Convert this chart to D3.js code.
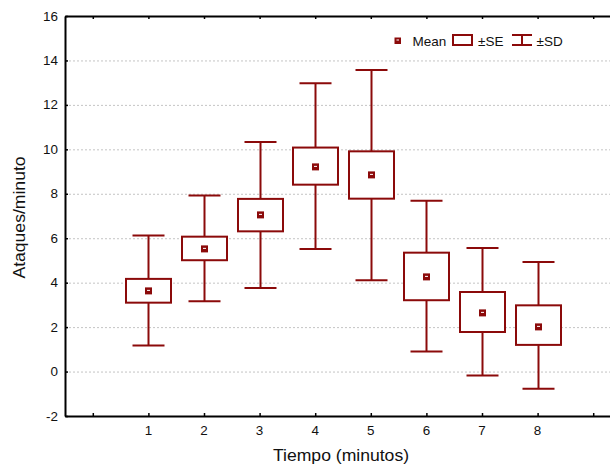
<!DOCTYPE html>
<html>
<head>
<meta charset="utf-8">
<script src="https://cdn.jsdelivr.net/npm/d3@7"></script>
<style>
  body { margin: 0; background: #fff; }
  svg { display: block; font-family: "Liberation Sans", Arial, sans-serif; }
</style>
</head>
<body>
<svg id="chart" width="610" height="465"></svg>
<script>
// Data
var minutes = [1, 2, 3, 4, 5, 6, 7, 8];
var means   = [3.63, 5.52, 7.05, 9.21, 8.85, 4.26, 2.64, 2.01];
var seLow   = [3.10, 5.01, 6.31, 8.41, 7.78, 3.21, 1.78, 1.20];
var seHigh  = [4.17, 6.07, 7.77, 10.08, 9.91, 5.35, 3.58, 2.98];
var sdLow   = [1.17, 3.16, 3.76, 5.52, 4.11, 0.90, -0.18, -0.77];
var sdHigh  = [6.12, 7.92, 10.33, 12.97, 13.57, 7.69, 5.56, 4.93];
var yTicks  = [-2, 0, 2, 4, 6, 8, 10, 12, 14, 16];
var xTicks  = [0, 1, 2, 3, 4, 5, 6, 7, 8, 9];

var red = '#8b0a0a';
var svg = d3.select('#chart');

var x = d3.scaleLinear().domain([-0.5, 9.5]).range([65, 621]);
var y = d3.scaleLinear().domain([-2, 16]).range([416, 16]);

// grid lines
svg.append('g')
    .selectAll('line')
    .data(yTicks.filter(function (d) { return d > -2 && d < 16; }))
    .join('line')
    .attr('x1', x(-0.5)).attr('x2', 610)
    .attr('y1', function (d) { return y(d) + 0.5; })
    .attr('y2', function (d) { return y(d) + 0.5; })
    .attr('stroke', '#c4c4c4')
    .attr('stroke-dasharray', '2,2');

// axes (ticks point inward)
var leftAxis = svg.append('g')
    .attr('transform', 'translate(' + x(-0.5) + ',0)')
    .call(d3.axisRight(y).tickValues(yTicks).tickSize(3).tickSizeOuter(0).tickFormat(''));
var bottomAxis = svg.append('g')
    .attr('transform', 'translate(0,' + y(-2) + ')')
    .call(d3.axisTop(x).tickValues(xTicks).tickSize(3).tickSizeOuter(0).tickFormat(''));
var topAxis = svg.append('g')
    .attr('transform', 'translate(0,' + y(16) + ')')
    .call(d3.axisBottom(x).tickValues(xTicks).tickSize(3).tickSizeOuter(0).tickFormat(''));
[leftAxis, bottomAxis, topAxis].forEach(function (g) {
  g.select('.domain').attr('stroke', '#000').attr('stroke-width', 2);
  g.selectAll('.tick line').attr('stroke', '#000').attr('stroke-width', 1.5);
});

// tick labels (slightly wide type, as in the original)
svg.append('g')
    .selectAll('text')
    .data(yTicks)
    .join('text')
    .attr('transform', function (d) { return 'translate(58,' + (y(d) + 4.5) + ') scale(1.12,1)'; })
    .attr('text-anchor', 'end')
    .attr('font-size', 12)
    .attr('fill', '#111')
    .text(function (d) { return d; });

svg.append('g')
    .selectAll('text')
    .data(minutes)
    .join('text')
    .attr('transform', function (d) { return 'translate(' + x(d) + ',435) scale(1.12,1)'; })
    .attr('text-anchor', 'middle')
    .attr('font-size', 12)
    .attr('fill', '#111')
    .text(function (d) { return d; });

// axis titles
svg.append('text')
    .attr('transform', 'translate(341,461) scale(1.1,1)')
    .attr('text-anchor', 'middle')
    .attr('font-size', 16)
    .attr('fill', '#111')
    .text('Tiempo (minutos)');

svg.append('text')
    .attr('transform', 'translate(24.5,217.5) rotate(-90) scale(1.1,1)')
    .attr('text-anchor', 'middle')
    .attr('font-size', 16)
    .attr('fill', '#111')
    .text('Ataques/minuto');

// boxes
var boxW = 45, capW = 32;
var groups = svg.append('g')
    .selectAll('g')
    .data(minutes)
    .join('g');

groups.each(function (d, i) {
  var g = d3.select(this);
  var cx = Math.round(x(d)) + 0.5;
  var ln = function (x1, x2, y1, y2) {
    g.append('line').attr('x1', x1).attr('x2', x2).attr('y1', y1).attr('y2', y2)
        .attr('stroke', red).attr('stroke-width', 2);
  };
  // whiskers
  ln(cx, cx, y(sdHigh[i]), y(seHigh[i]));
  ln(cx, cx, y(seLow[i]), y(sdLow[i]));
  ln(cx - capW / 2, cx + capW / 2, y(sdHigh[i]), y(sdHigh[i]));
  ln(cx - capW / 2, cx + capW / 2, y(sdLow[i]), y(sdLow[i]));
  // SE box
  g.append('rect')
      .attr('x', cx - boxW / 2).attr('width', boxW)
      .attr('y', y(seHigh[i])).attr('height', y(seLow[i]) - y(seHigh[i]))
      .attr('fill', '#fff').attr('stroke', red).attr('stroke-width', 2);
  // mean marker
  g.append('rect')
      .attr('x', cx - 3.5).attr('y', y(means[i]) - 3.5)
      .attr('width', 7).attr('height', 7)
      .attr('fill', red);
  g.append('line')
      .attr('x1', cx - 1.5).attr('x2', cx + 1.5)
      .attr('y1', y(means[i]) - 0.5).attr('y2', y(means[i]) - 0.5)
      .attr('stroke', '#fff').attr('stroke-width', 1);
});

// legend
var lg = svg.append('g');
lg.append('rect').attr('x', 394.5).attr('y', 37.5).attr('width', 6.5).attr('height', 6.5).attr('fill', red);
lg.append('line').attr('x1', 396.5).attr('x2', 399).attr('y1', 40).attr('y2', 40)
    .attr('stroke', '#fff').attr('stroke-width', 1);
lg.append('text').attr('x', 412.5).attr('y', 45.5).attr('font-size', 13.5).attr('fill', '#111').text('Mean');
lg.append('rect').attr('x', 453).attr('y', 35).attr('width', 19).attr('height', 10)
    .attr('fill', '#fff').attr('stroke', red).attr('stroke-width', 2);
lg.append('text').attr('x', 478).attr('y', 45.5).attr('font-size', 13.5).attr('fill', '#111').text('\u00b1SE');
lg.append('line').attr('x1', 512).attr('x2', 532).attr('y1', 35).attr('y2', 35).attr('stroke', red).attr('stroke-width', 2);
lg.append('line').attr('x1', 512).attr('x2', 532).attr('y1', 45).attr('y2', 45).attr('stroke', red).attr('stroke-width', 2);
lg.append('line').attr('x1', 522).attr('x2', 522).attr('y1', 35).attr('y2', 45).attr('stroke', red).attr('stroke-width', 2);
lg.append('text').attr('x', 536.5).attr('y', 45.5).attr('font-size', 13.5).attr('fill', '#111').text('\u00b1SD');
</script>
</body>
</html>
